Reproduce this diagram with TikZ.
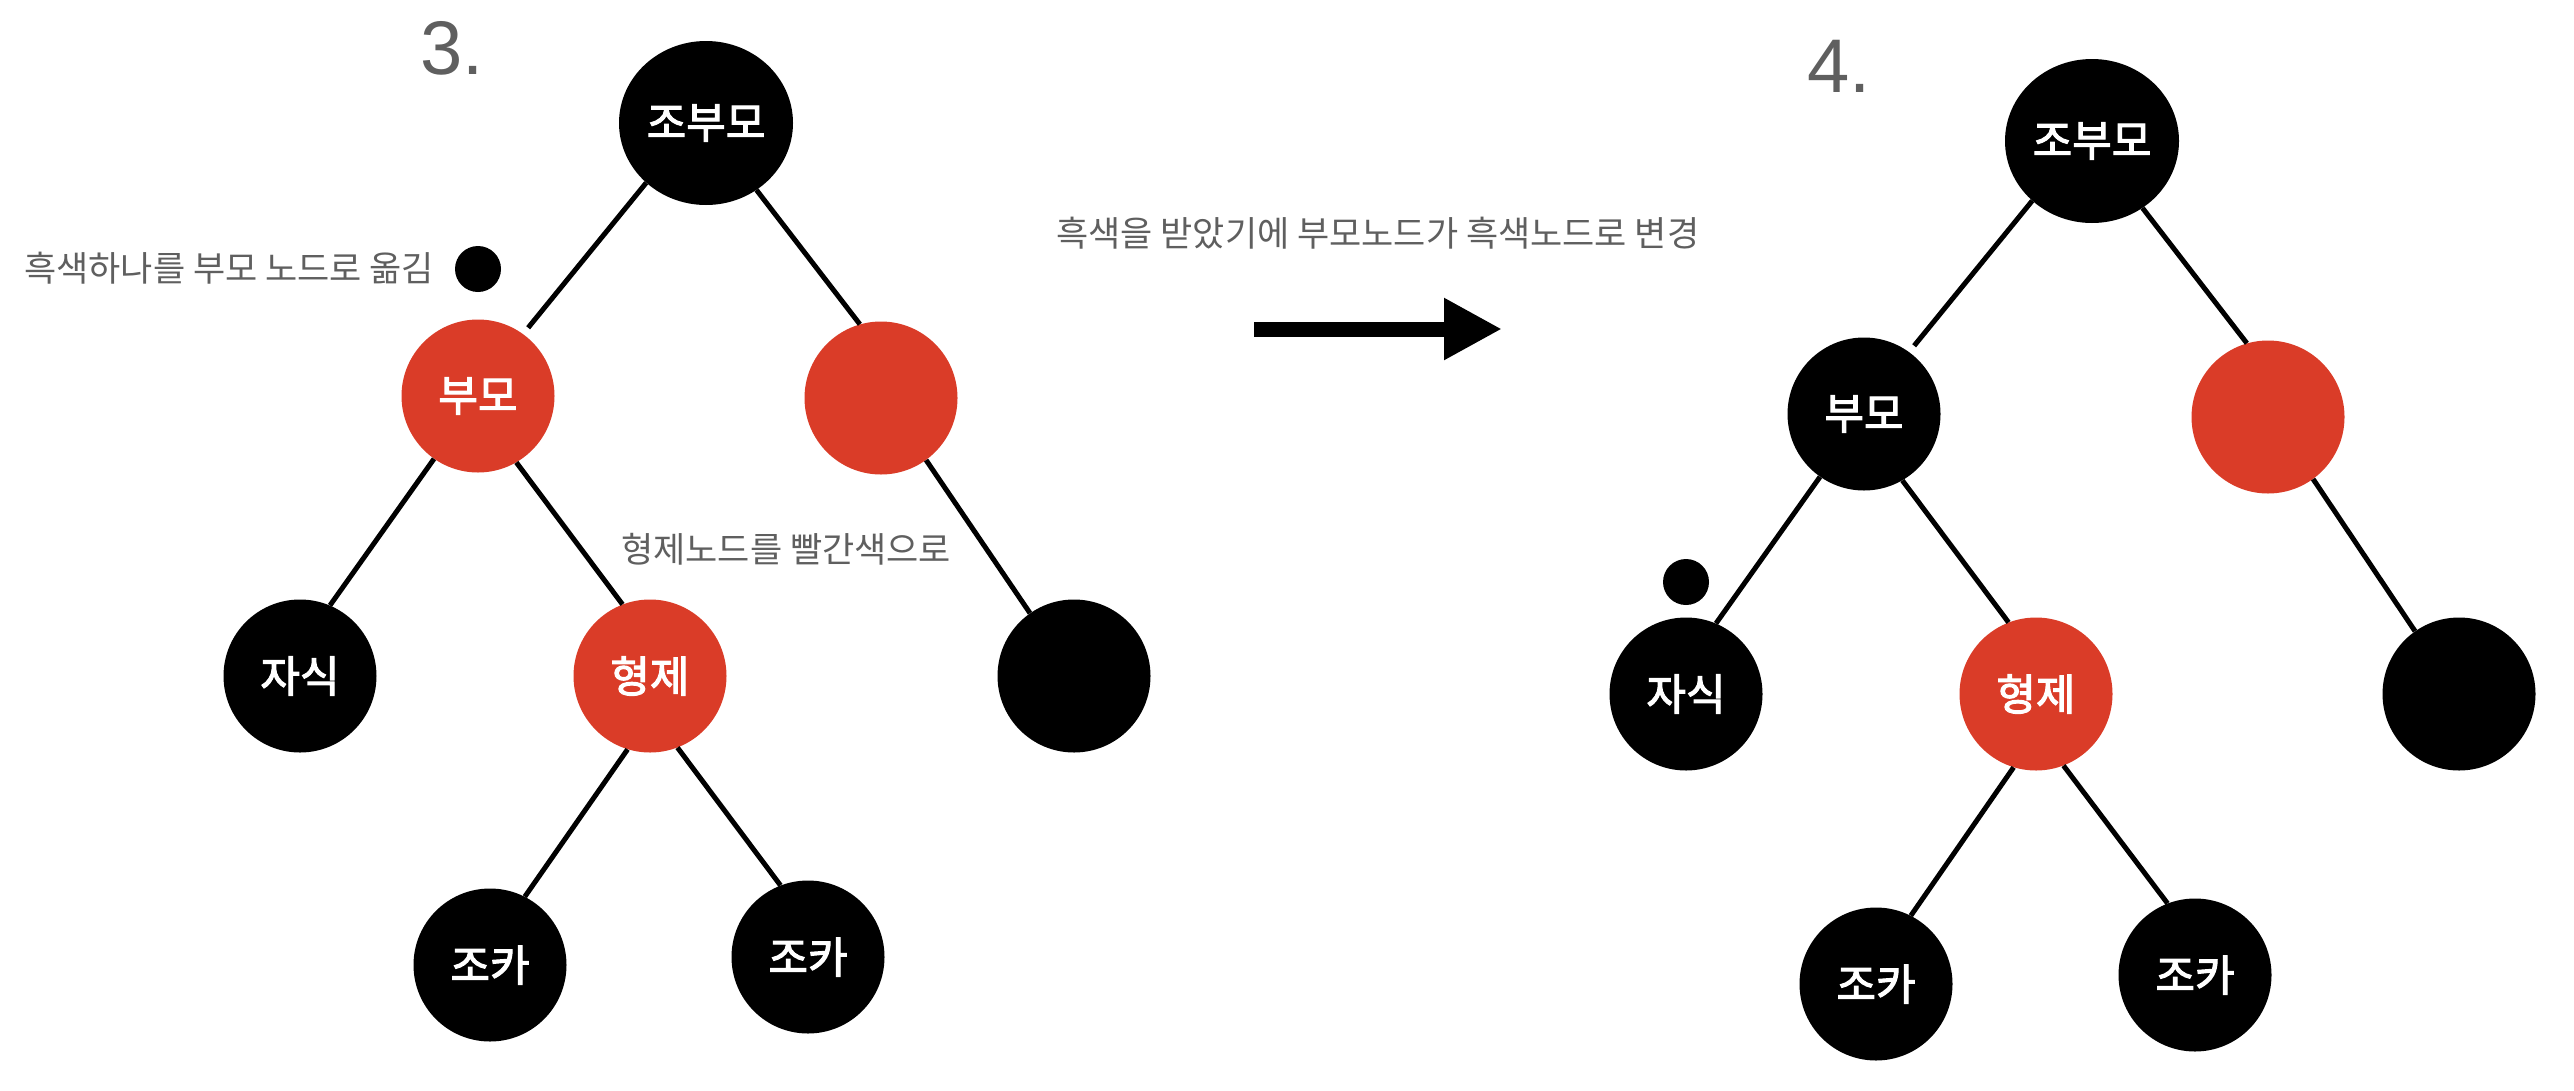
\documentclass[tikz,border=0pt]{standalone}
\usepackage{fontspec}
\setmainfont{Noto Sans CJK KR}
\newfontfamily\numfont{Liberation Sans}
\newfontfamily\labelfont{Noto Sans CJK KR}[FakeBold=2.6]
\usetikzlibrary{shapes.geometric,arrows.meta}
\definecolor{nodered}{RGB}{218,60,40}
\definecolor{notegray}{RGB}{95,95,95}
\tikzset{
  rbnode/.style={circle, minimum size=153pt, inner sep=0pt, text=white,
    font=\labelfont\fontsize{43}{48}\selectfont},
  blacknode/.style={rbnode, fill=black},
  rednode/.style={rbnode, fill=nodered},
  gpnode/.style={ellipse, minimum width=174pt, minimum height=164pt, inner sep=0pt,
    fill=black, text=white, font=\labelfont\fontsize{43}{48}\selectfont},
  dotnode/.style={circle, minimum size=46pt, inner sep=0pt, fill=black},
  treeedge/.style={line width=5pt, black},
  notetext/.style={text=notegray, inner sep=0pt, font=\fontsize{35}{40}\selectfont},
  steptext/.style={text=notegray, inner sep=0pt, font=\numfont\fontsize{76}{80}\selectfont},
}
\begin{document}
\begin{tikzpicture}[x=1pt,y=-1pt]
\useasboundingbox (0,0) rectangle (2574,1090);

% ---------- left tree (3.) ----------
\node[steptext] (s3) at (452,48) {3.};
\node[gpnode]    (lgp) at (706,123) {조부모};
\node[rednode]   (lp)  at (478,396) {부모};
\node[rednode]   (lu)  at (881,398) {};
\node[blacknode] (lc)  at (300,676) {자식};
\node[rednode]   (ls)  at (650,676) {형제};
\node[blacknode] (ll)  at (1074,676) {};
\node[blacknode] (ln1) at (490,965) {조카};
\node[blacknode] (ln2) at (808,957) {조카};
\node[dotnode]   (ldot) at (478,269) {};
\node[notetext, anchor=west] (lnote1) at (24,268) {흑색하나를 부모 노드로 옮김};
\node[notetext, anchor=west] (lnote2) at (621,549) {형제노드를 빨간색으로};

\draw[treeedge, shorten >=8pt] (lgp.225) -- (lp.54);
\draw[treeedge] (lgp.307.5) -- (lu.106);
\draw[treeedge] (lp.235) -- (lc.67.5);
\draw[treeedge] (lp.300) -- (ls.111.5);
\draw[treeedge] (lu.306) -- (ll.125);
\draw[treeedge] (ls.253.5) -- (ln1.63.5);
\draw[treeedge] (ls.291.5) -- (ln2.111);

% ---------- middle ----------
\node[notetext, anchor=west] (mnote) at (1056,233) {흑색을 받았기에 부모노드가 흑색노드로 변경};
\coordinate (a1) at (1254,329);
\coordinate (a2) at (1502,329);
\draw[line width=15pt, -{Triangle[length=58pt, width=58pt]}] (a1) -- (a2);

% ---------- right tree (4.) ----------
\node[steptext] (s4) at (1839,66) {4.};
\node[gpnode]    (rgp) at (2092,141) {조부모};
\node[blacknode] (rp)  at (1864,414) {부모};
\node[rednode]   (ru)  at (2268,417) {};
\node[blacknode] (rc)  at (1686,694) {자식};
\node[rednode]   (rs)  at (2036,694) {형제};
\node[blacknode] (rl)  at (2459,694) {};
\node[blacknode] (rn1) at (1876,984) {조카};
\node[blacknode] (rn2) at (2195,975) {조카};
\node[dotnode]   (rdot) at (1686,582) {};

\draw[treeedge, shorten >=8pt] (rgp.225) -- (rp.54);
\draw[treeedge] (rgp.307.5) -- (ru.106);
\draw[treeedge] (rp.235) -- (rc.67.5);
\draw[treeedge] (rp.300) -- (rs.111.5);
\draw[treeedge] (ru.306) -- (rl.125);
\draw[treeedge] (rs.253.5) -- (rn1.63.5);
\draw[treeedge] (rs.291.5) -- (rn2.111);
\end{tikzpicture}
\end{document}
